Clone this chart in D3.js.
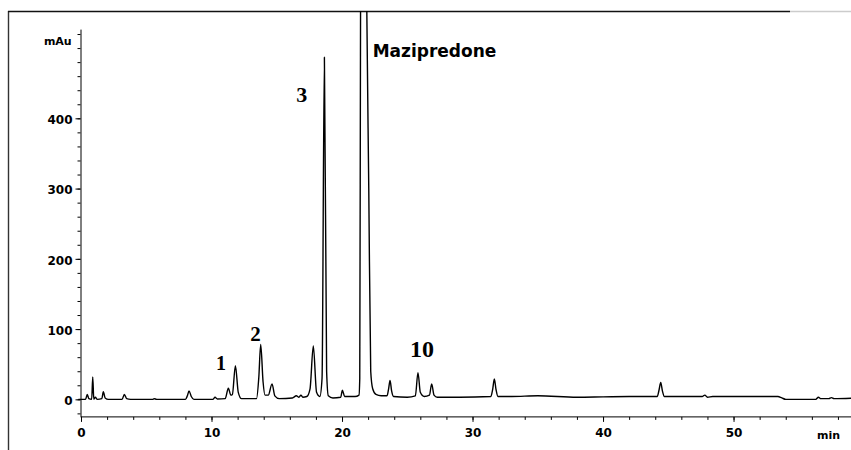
<!DOCTYPE html>
<html>
<head>
<meta charset="utf-8">
<script src="https://d3js.org/d3.v7.min.js"></script>
<style>
  body { margin: 0; background: #fff; }
  svg { display: block; }
  .tick text { font-family: "DejaVu Sans", sans-serif; font-weight: bold; font-size: 12px; fill: #000; }
</style>
</head>
<body>
<svg width="851" height="450" id="chart"></svg>
<script>
// retention time (min) and detector signal (mAu)
const times = [
  -0.2, 0.35, 0.48, 0.6, 0.82, 0.9, 0.98, 1.1, 1.25, 1.6, 1.71, 1.85, 2.1,
  3.15, 3.32, 3.5, 3.8, 5.5, 5.6, 5.8, 8.0, 8.15, 8.28, 8.45, 8.65,
  10.1, 10.27, 10.45, 11.05, 11.29, 11.48, 11.6, 11.83, 12.05, 12.3,
  13.45, 13.62, 13.77, 13.95, 14.1, 14.35, 14.64, 14.85, 15.2,
  16.2, 16.5, 16.7, 16.85, 17.0, 17.3, 17.55, 17.8, 18.05, 18.3, 18.47, 18.65, 18.82, 18.95, 19.3,
  19.9, 20.03, 20.2, 20.5, 21.0, 21.3, 21.36, 21.42, 21.65, 21.9, 22.05, 22.2, 22.35, 22.6, 23.0,
  23.45, 23.57, 23.68, 23.8, 23.95, 25.0, 25.62, 25.82, 26.0, 26.3, 26.7, 26.87, 27.05, 27.3,
  29.0, 31.4, 31.55, 31.67, 31.8, 31.95, 33.0, 35.0, 38.0, 40.0, 42.0,
  44.15, 44.3, 44.42, 44.55, 44.7, 47.6, 47.8, 48.0, 48.4, 50.0,
  53.4, 53.7, 54.0, 56.3, 56.5, 56.7, 57.3, 57.5, 57.7, 59.5
];
const mAu = [
  0, 0, 7, 1, 0, 32, 0, 3, 0, 1, 11, 2, 0,
  0, 7, 1, 0, 0, 1, 0, 0, 5, 12, 4, 0,
  0, 3, 0.5, 1, 16, 6, 7, 48, 10, 1,
  1, 30, 78, 25, 6, 6, 22, 5, 1,
  2, 5, 3, 6, 3, 4, 15, 76, 10, 4, 30, 487, 40, 5, 2,
  3, 13, 4, 4, 4, 6, 30, 553, 1200, 553, 300, 40, 15, 7, 5,
  5, 15, 27, 12, 4, 3, 5, 38, 10, 4, 6, 22, 6, 3,
  3, 4, 15, 29, 14, 4, 4, 5, 3, 3.5, 4,
  4, 14, 24, 12, 4, 4, 6, 3, 4, 4,
  4, 2, 0, 0, 3, 1, 1, 2.5, 1, 2
];

// axis ticks
const xMajor = [0, 10, 20, 30, 40, 50];
const xMinor = d3.range(0, 60, 2);
const yMajor = [0, 100, 200, 300, 400];
const yMinor = d3.range(-20, 521, 20);

// peak annotations: label, time, signal at label baseline
const peakLabels = ["1", "2", "3", "10"];
const peakLabelT = [10.73, 13.37, 16.91, 26.13];
const peakLabelV = [41.7, 83.4, 423.6, 60.6];
const peakLabelSize = [20, 21, 22, 24];

const svg = d3.select("#chart");

const x = d3.scaleLinear().domain([0, 59]).range([81, 851]);
const y = d3.scaleLinear().domain([-25, 527]).range([416.9, 29.1]);

// frame
svg.append("line").attr("x1", 8.5).attr("x2", 8.5).attr("y1", 11).attr("y2", 450)
  .attr("stroke", "#333").attr("stroke-width", 1.4);
svg.append("line").attr("x1", 8).attr("x2", 790).attr("y1", 11.5).attr("y2", 11.5)
  .attr("stroke", "#111").attr("stroke-width", 1.4);
svg.append("line").attr("x1", 790).attr("x2", 851).attr("y1", 11.5).attr("y2", 11.5)
  .attr("stroke", "#ccc").attr("stroke-width", 1.4);

// axes
const xAxisY = y(-25);
svg.append("g").attr("transform", "translate(0," + xAxisY + ")")
  .call(d3.axisBottom(x).tickValues(xMinor).tickSize(3).tickFormat(""))
  .call(g => g.select(".domain").remove());
svg.append("g").attr("transform", "translate(0," + xAxisY + ")")
  .call(d3.axisBottom(x).tickValues(xMajor).tickSizeInner(5).tickSizeOuter(0).tickPadding(6.5))
  .call(g => g.select(".domain").attr("d", "M81,0H851"));

const yAxisX = 80.5;
svg.append("g").attr("transform", "translate(" + yAxisX + ",0)")
  .call(d3.axisLeft(y).tickValues(yMinor).tickSize(3).tickFormat(""))
  .call(g => g.select(".domain").remove());
svg.append("g").attr("transform", "translate(" + yAxisX + ",0)")
  .call(d3.axisLeft(y).tickValues(yMajor).tickSizeInner(5).tickSizeOuter(0).tickPadding(3))
  .call(g => g.selectAll(".tick text").attr("dy", "0.45em"));

svg.selectAll(".domain, .tick line").attr("stroke", "#000");

svg.append("text").attr("x", 71.7).attr("y", 44.5).attr("text-anchor", "end")
  .style("font-family", "DejaVu Sans").style("font-weight", "bold").style("font-size", "11px")
  .text("mAu");
svg.append("text").attr("x", 828.5).attr("y", 439).attr("text-anchor", "middle")
  .style("font-family", "DejaVu Sans").style("font-weight", "bold").style("font-size", "11px")
  .text("min");

// trace
svg.append("clipPath").attr("id", "plot")
  .append("rect").attr("x", 76).attr("y", 11).attr("width", 780).attr("height", 420);

const line = d3.line()
  .x(i => x(times[i]))
  .y(i => y(mAu[i]))
  .curve(d3.curveMonotoneX);

svg.append("path")
  .attr("clip-path", "url(#plot)")
  .attr("d", line(d3.range(times.length)))
  .attr("fill", "none")
  .attr("stroke", "#000")
  .attr("stroke-width", 1.4)
  .attr("stroke-linejoin", "round");

// labels
svg.selectAll(".peak").data(peakLabels).enter().append("text")
  .attr("class", "peak")
  .attr("x", (d, i) => x(peakLabelT[i]))
  .attr("y", (d, i) => y(peakLabelV[i]))
  .attr("text-anchor", "middle")
  .style("font-family", "'Liberation Serif', serif")
  .style("font-weight", "bold")
  .style("font-size", (d, i) => peakLabelSize[i] + "px")
  .text(d => d);

svg.append("text")
  .attr("x", x(22.35)).attr("y", y(487.7))
  .style("font-family", "DejaVu Sans").style("font-weight", "bold").style("font-size", "17px")
  .text("Mazipredone");
</script>
</body>
</html>
